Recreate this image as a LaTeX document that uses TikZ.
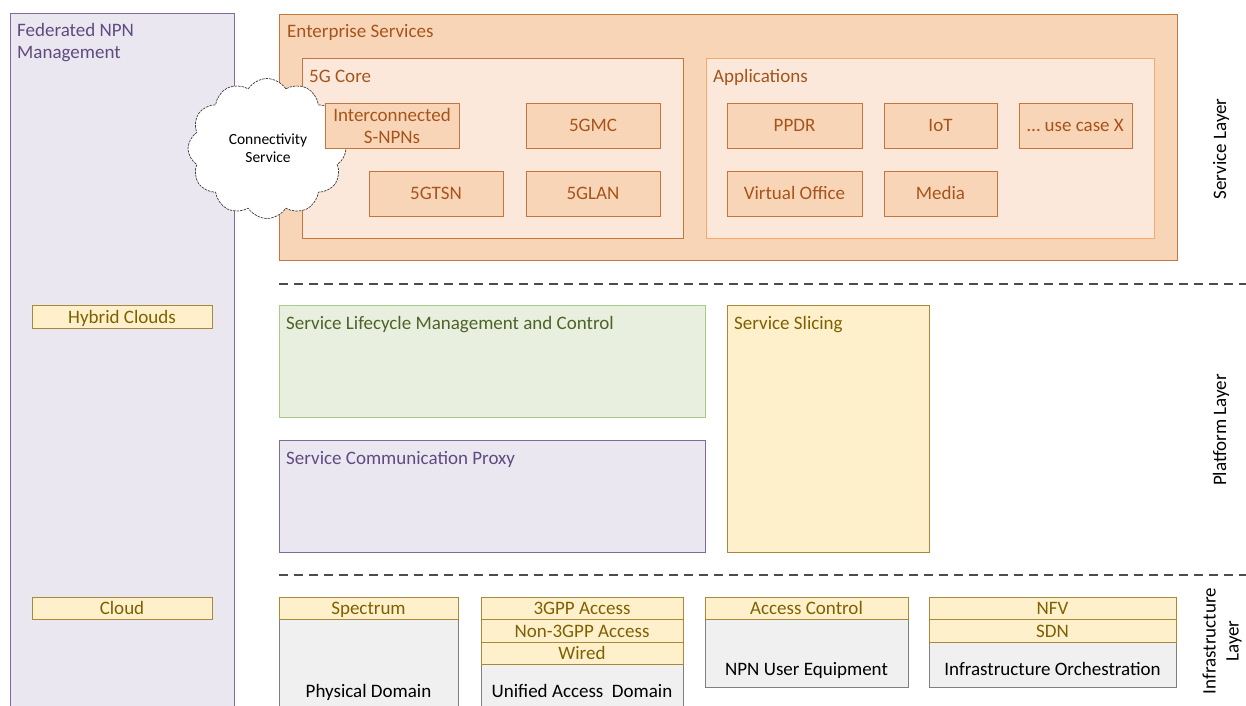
\documentclass[tikz,border=0pt]{standalone}
\usepackage{fontspec}
\setmainfont{Carlito}
\usetikzlibrary{shapes.symbols}
\definecolor{fedfill}{HTML}{EBE7F0}
\definecolor{fedline}{HTML}{7F6A9A}
\definecolor{fedtext}{HTML}{5F4B80}
\definecolor{entfill}{HTML}{F9D5B7}
\definecolor{entline}{HTML}{C5763C}
\definecolor{enttext}{HTML}{A6541B}
\definecolor{corefill}{HTML}{FCE8DA}
\definecolor{appline}{HTML}{F5A96A}
\definecolor{yelfill}{HTML}{FFF0CC}
\definecolor{yelline}{HTML}{A8893A}
\definecolor{yeltext}{HTML}{7F6000}
\definecolor{grnfill}{HTML}{E8EFDF}
\definecolor{grnline}{HTML}{A9CB89}
\definecolor{grntext}{HTML}{4F6228}
\definecolor{gryfill}{HTML}{F0F0F0}
\definecolor{gryline}{HTML}{7F7F7F}
\tikzset{
  base/.style={anchor=north west, inner sep=0pt, outer sep=0pt, line width=1pt},
  fedbox/.style={base, fill=fedfill, draw=fedline},
  entbox/.style={base, fill=entfill, draw=entline},
  corebox/.style={base, fill=corefill, draw=entline},
  appbox/.style={base, fill=corefill, draw=appline},
  itembox/.style={base, fill=entfill, draw=entline, text=enttext, font=\fontsize{19}{22}\selectfont, align=center},
  itemone/.style={itembox, text height=14pt, text depth=3pt},
  yelbox/.style={base, fill=yelfill, draw=yelline, text=yeltext, font=\fontsize{19}{22}\selectfont, text height=15pt, text depth=2pt},
  yelplain/.style={base, fill=yelfill, draw=yelline},
  grnbox/.style={base, fill=grnfill, draw=grnline},
  grybox/.style={base, fill=gryfill, draw=gryline},
  lbl/.style={anchor=base west, inner sep=0pt, font=\fontsize{19}{22}\selectfont},
  glbl/.style={anchor=base, inner sep=0pt, font=\fontsize{19}{22}\selectfont, text=black},
  layer/.style={rotate=90, inner sep=0pt, font=\fontsize{19}{23}\selectfont, align=center, text=black},
  sep/.style={dashed, dash pattern=on 9pt off 6pt, line width=1.2pt, draw=black!70},
  cloudshape/.style={cloud, cloud puffs=12, cloud puff arc=115, aspect=1.2, draw=black!75, dash pattern=on 2.5pt off 1pt, line width=0.7pt, fill=white, inner sep=0pt},
}
\begin{document}
\begin{tikzpicture}[x=1pt, y=-1pt]
\useasboundingbox (0,0) rectangle (1246,705);
\clip (0,0) rectangle (1246,705);
% Federated NPN management
\node[fedbox, minimum width=224pt, minimum height=720pt] (fed) at (10,13) {};
\node[inner sep=0pt, anchor=north west, text=fedtext, align=left, font=\fontsize{19}{22}\selectfont] (fedl) at (17,23) {Federated NPN\\Management};
\node[yelbox, minimum width=180pt, minimum height=23pt] (hyb) at (32,305) {Hybrid Clouds};
\node[yelbox, minimum width=180pt, minimum height=22pt] (cld) at (32,597) {Cloud};
% Enterprise services
\node[entbox, minimum width=898pt, minimum height=246pt] (ent) at (279,14) {};
\node[lbl, text=enttext] (entl) at (287,37) {Enterprise Services};
\node[corebox, minimum width=381pt, minimum height=180pt] (core) at (302,58) {};
\node[lbl, text=enttext] (corel) at (309,82) {5G Core};
\node[appbox, minimum width=448pt, minimum height=180pt] (app) at (706,58) {};
\node[lbl, text=enttext] (appl) at (713,82) {Applications};
% Connectivity cloud (behind the S-NPN box)
\node[cloudshape, minimum width=158pt, minimum height=140pt] (conn) at (267,148.5) {};
\node[inner sep=0pt, anchor=base, align=center, font=\fontsize{15.5}{18}\selectfont] (connl) at (268,162) {Connectivity\\Service};
\node[itembox, minimum width=134pt, minimum height=45pt] (snpn) at (325,103) {Interconnected\\S-NPNs};
\node[itemone, minimum width=134pt, minimum height=45pt] (gmc) at (526,103) {5GMC};
\node[itemone, minimum width=134pt, minimum height=45pt] (tsn) at (369,171) {5GTSN};
\node[itemone, minimum width=134pt, minimum height=45pt] (lan) at (526,171) {5GLAN};
\node[itemone, minimum width=135pt, minimum height=45pt] (ppdr) at (727,103) {PPDR};
\node[itemone, minimum width=113pt, minimum height=45pt] (iot) at (884,103) {IoT};
\node[itemone, minimum width=113pt, minimum height=45pt] (usex) at (1019,103) {… use case X};
\node[itemone, minimum width=135pt, minimum height=45pt] (vo) at (727,171) {Virtual Office};
\node[itemone, minimum width=113pt, minimum height=45pt] (media) at (884,171) {Media};
% separators
\coordinate (s1a) at (279,284);
\coordinate (s1b) at (1246,284);
\coordinate (s2a) at (279,575);
\coordinate (s2b) at (1246,575);
\draw[sep] (s1a) -- (s1b);
\draw[sep] (s2a) -- (s2b);
% Platform layer
\node[grnbox, minimum width=426pt, minimum height=112pt] (slm) at (279,305) {};
\node[lbl, text=grntext] (slml) at (286,329) {Service Lifecycle Management and Control};
\node[fedbox, minimum width=426pt, minimum height=112pt] (scp) at (279,440) {};
\node[lbl, text=fedtext] (scpl) at (286,464) {Service Communication Proxy};
\node[yelplain, minimum width=202pt, minimum height=247pt] (slc) at (727,305) {};
\node[lbl, text=yeltext] (slcl) at (734,329) {Service Slicing};
% Infrastructure layer
\node[grybox, minimum width=179pt, minimum height=130pt] (phy) at (279,597) {};
\node[yelbox, minimum width=179pt, minimum height=22pt] (spec) at (279,597) {Spectrum};
\node[glbl] (phyl) at (368.5,697) {Physical Domain};
\node[grybox, minimum width=202pt, minimum height=130pt] (uad) at (481,597) {};
\node[yelbox, minimum width=202pt, minimum height=22pt] (g3) at (481,597) {3GPP Access};
\node[yelbox, minimum width=202pt, minimum height=23pt] (ng3) at (481,619) {Non-3GPP Access};
\node[yelbox, minimum width=202pt, minimum height=22pt] (wir) at (481,642) {Wired};
\node[glbl] (uadl) at (582,697) {Unified Access\ \ Domain};
\node[grybox, minimum width=203pt, minimum height=90pt] (ue) at (705,597) {};
\node[yelbox, minimum width=203pt, minimum height=22pt] (acc) at (705,597) {Access Control};
\node[glbl] (uel) at (806.5,675) {NPN User Equipment};
\node[grybox, minimum width=247pt, minimum height=90pt] (orc) at (929,597) {};
\node[yelbox, minimum width=247pt, minimum height=22pt] (nfv) at (929,597) {NFV};
\node[yelbox, minimum width=247pt, minimum height=23pt] (sdn) at (929,619) {SDN};
\node[glbl] (orcl) at (1052.5,675) {Infrastructure Orchestration};
% Layer labels
\node[layer] (sl) at (1221,149) {Service Layer};
\node[layer] (pl) at (1221,430) {Platform Layer};
\node[layer] (il) at (1222,641) {Infrastructure\\Layer};
\end{tikzpicture}
\end{document}
